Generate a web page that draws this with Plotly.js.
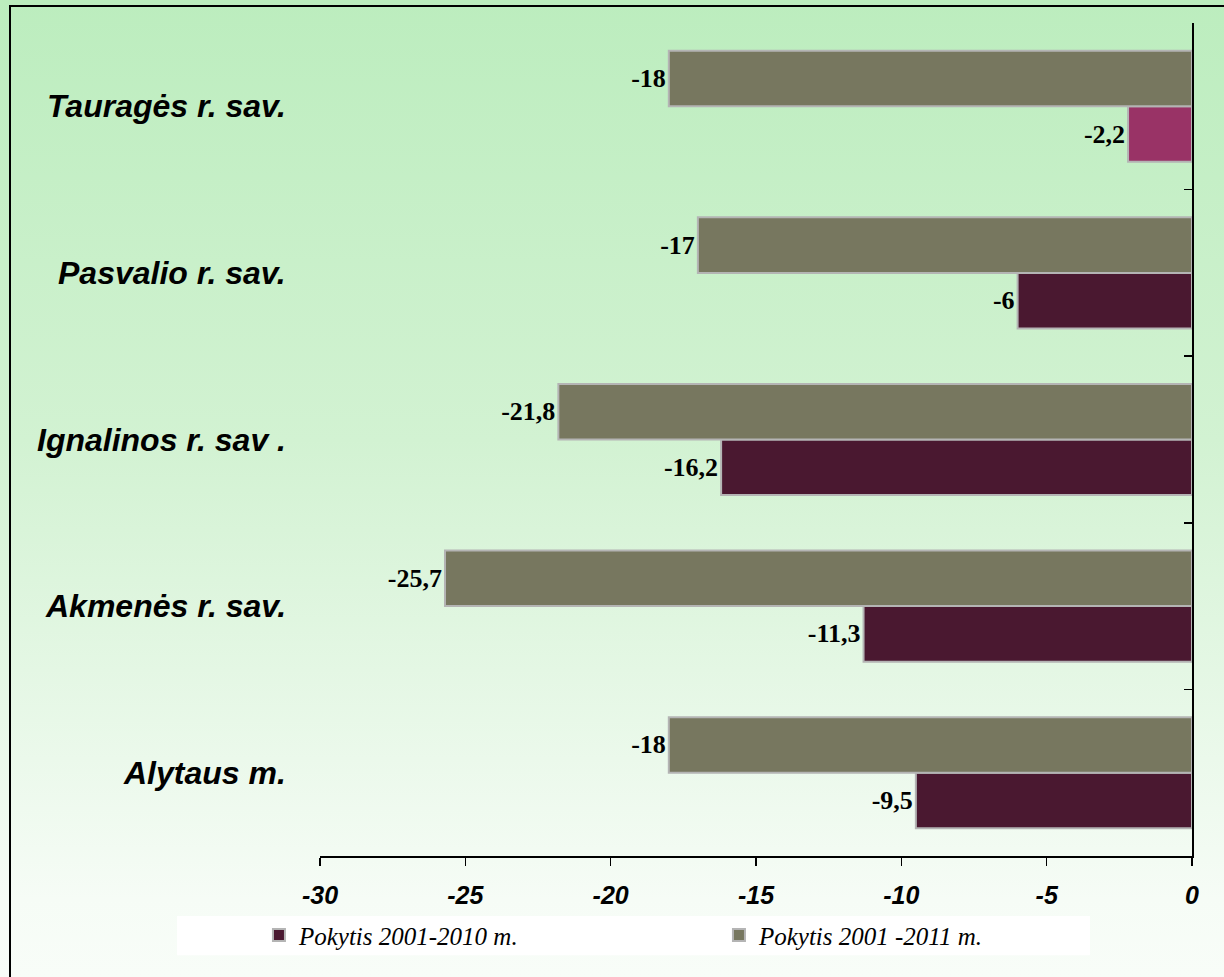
<!DOCTYPE html>
<html>
<head>
<meta charset="utf-8">
<script src="https://cdn.plot.ly/plotly-3.0.1.min.js"></script>
<style>
  html, body { margin: 0; padding: 0; }
  body { width: 1224px; height: 977px; overflow: hidden; position: relative;
         background: linear-gradient(to bottom, #bcedbe 0%, #d2f2d2 45%, #f6fcf6 92%, #f8fdf8 100%); }
  #chart { width: 1224px; height: 977px; position: absolute; left: 0; top: 0; }
  #frame { position: absolute; left: 9px; top: 5px; width: 1240px; height: 1000px;
           border-left: 2px solid #000; border-top: 2px solid #000; pointer-events: none; }
</style>
</head>
<body>
<div id="chart"></div>
<div id="frame"></div>
<script>
const categories = ["Alytaus m.", "Akmenės r. sav.", "Ignalinos r. sav .", "Pasvalio r. sav.", "Tauragės r. sav."];
const series2010 = [-9.5, -11.3, -16.2, -6, -2.2];
const series2011 = [-18, -25.7, -21.8, -17, -18];
const seriesNames = ["Pokytis 2001-2010 m.", "Pokytis 2001 -2011 m."];
const xTickValues = [-30, -25, -20, -15, -10, -5, 0];

const fmt = v => String(v).replace('.', ',');
const maroon = '#4a1830';
const maroonHighlight = '#993366';
const olive = '#77775f';

const colors2010 = categories.map((c, i) => i === categories.length - 1 ? maroonHighlight : maroon);

const labelFont = { family: 'Liberation Serif, Times New Roman, serif', size: 26, color: '#000', weight: 'bold' };

const traces = [
  {
    type: 'bar', orientation: 'h', name: seriesNames[0],
    y: categories, x: series2010,
    text: series2010.map(fmt), textposition: 'outside', cliponaxis: false,
    textfont: labelFont,
    marker: { color: colors2010, line: { color: '#b4b4b4', width: 2 } },
    hoverinfo: 'x+y'
  },
  {
    type: 'bar', orientation: 'h', name: seriesNames[1],
    y: categories, x: series2011,
    text: series2011.map(fmt), textposition: 'outside', cliponaxis: false,
    textfont: labelFont,
    marker: { color: olive, line: { color: '#b4b4b4', width: 2 } },
    hoverinfo: 'x+y'
  }
];

const annotations = categories.map(c => ({
  xref: 'paper', yref: 'y', x: -0.037, y: c, text: '<b><i>' + c + '</i></b>',
  showarrow: false, xanchor: 'right', yanchor: 'middle',
  font: { family: 'Liberation Sans, Arial, sans-serif', size: 32, color: '#000' }
}));

const layout = {
  width: 1224, height: 977,
  margin: { l: 320, r: 32, t: 23, b: 121, pad: 0 },
  paper_bgcolor: 'rgba(0,0,0,0)', plot_bgcolor: 'rgba(0,0,0,0)',
  barmode: 'group', bargap: 0.333, bargroupgap: 0,
  showlegend: true,
  legend: {
    orientation: 'h', x: -0.07, xanchor: 'left', y: -0.095, yanchor: 'middle',
    bgcolor: 'rgba(0,0,0,0)', traceorder: 'normal',
    entrywidth: 415, entrywidthmode: 'pixels',
    font: { family: 'Liberation Serif, Times New Roman, serif', size: 25, color: '#000', style: 'italic' }
  },
  xaxis: {
    range: [-30, 0], tickvals: xTickValues, ticktext: xTickValues.map(String),
    ticks: 'outside', ticklen: 8, tickwidth: 1.5, tickcolor: '#000',
    showline: true, linecolor: '#000', linewidth: 1.5,
    showgrid: false, zeroline: false,
    tickfont: { family: 'Liberation Sans, Arial, sans-serif', size: 25, color: '#000', weight: 'bold', style: 'italic' },
    ticklabelstandoff: 8
  },
  yaxis: {
    type: 'category', categoryorder: 'array', categoryarray: categories,
    side: 'right', showticklabels: false,
    ticks: 'inside', tickson: 'boundaries', ticklen: 8, tickwidth: 1.5, tickcolor: '#000',
    showline: true, linecolor: '#000', linewidth: 2,
    showgrid: false, zeroline: false, range: [-0.5, 4.5]
  },
  shapes: [
    { type: 'rect', xref: 'paper', yref: 'paper', x0: -0.164, x1: 0.883, y0: -0.072, y1: -0.119,
      fillcolor: '#ffffff', line: { width: 0 }, layer: 'below' }
  ],
  annotations: annotations
};

Plotly.newPlot('chart', traces, layout, { displayModeBar: false, staticPlot: true });
</script>
</body>
</html>
